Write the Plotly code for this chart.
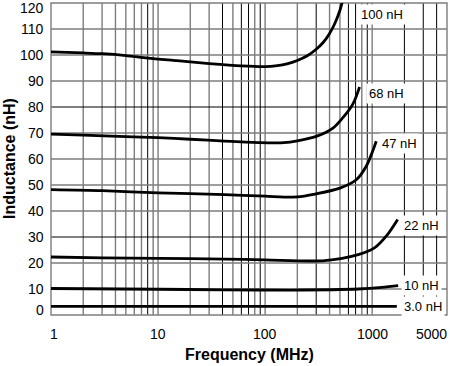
import math
import plotly.graph_objects as go

# ---------------- data ----------------
f_100 = [1, 2, 3, 5, 8, 15, 30, 60, 100, 130, 160, 200, 250, 300, 350, 400, 450, 500, 530]
l_100 = [101.2, 100.8, 100.5, 99.8, 98.8, 97.8, 96.7, 95.8, 95.5, 95.9, 96.6, 97.9, 99.8, 102.2, 104.9, 108.3, 112.3, 117.2, 121.0]

f_68 = [1, 2, 5, 10, 20, 42, 90, 150, 200, 300, 430, 530, 640, 690, 763]
l_68 = [69.6, 69.2, 68.6, 68.2, 67.6, 66.9, 66.3, 66.3, 67.0, 68.7, 71.9, 75.8, 80.2, 82.8, 87.7]

f_47 = [1, 3, 10, 42, 100, 200, 300, 500, 710, 880, 1000, 1092]
l_47 = [48.2, 47.8, 47.0, 46.3, 45.7, 45.4, 46.6, 48.8, 52.0, 57.2, 62.5, 66.8]

f_22 = [1, 3, 10, 42, 100, 360, 740, 1050, 1390, 1730]
l_22 = [22.3, 22.0, 21.8, 21.5, 21.2, 20.9, 23.2, 25.8, 30.9, 36.7]

f_10 = [1, 10, 42, 175, 740, 1230, 1500, 1750]
l_10 = [10.2, 9.9, 9.7, 9.6, 10.0, 10.6, 11.0, 11.3]

f_3 = [1, 100, 1700]
l_3 = [3.3, 3.3, 3.3]

series = [
    ("100 nH", f_100, l_100),
    ("68 nH", f_68, l_68),
    ("47 nH", f_47, l_47),
    ("22 nH", f_22, l_22),
    ("10 nH", f_10, l_10),
    ("3.0 nH", f_3, l_3),
]

# curve label anchor points (frequency, inductance)
label_names = ["100 nH", "68 nH", "47 nH", "22 nH", "10 nH", "3.0 nH"]
label_f = [731, 883, 1148, 1866, 1840, 1866]
label_l = [115.4, 85.3, 65.8, 34.6, 11.2, 3.2]

x_ticks = [1, 10, 100, 1000, 5000]
x_tick_text = ["1", "10", "100", "1000", "5000"]
y_ticks = list(range(0, 121, 10))
y_tick_text = [str(v) for v in y_ticks]

grid_x_gray = [2, 3, 4, 5, 6, 7, 9, 10, 20, 30, 50, 80, 100, 200, 400, 500, 800, 1000]
grid_x_black = [8, 40, 60, 70, 90, 300, 600, 700, 900, 2000, 3000, 4000]
grid_y_gray = [10, 20, 40, 50, 60, 70, 90, 100, 110]
grid_y_black = [30, 80]

# ---------------- figure ----------------
FONT = "Liberation Sans, Arial, Helvetica, sans-serif"
GRAY = "#7d7d7d"

fig = go.Figure()
for name, fx, ly in series:
    fig.add_trace(go.Scatter(
        x=fx, y=ly, mode="lines", name=name,
        line=dict(color="black", width=2.8, shape="spline", smoothing=0.8),
        hoverinfo="skip", showlegend=False, cliponaxis=True,
    ))

shapes = []
for v in grid_x_gray:
    shapes.append(dict(type="line", xref="x", yref="paper", x0=v, x1=v, y0=0, y1=1,
                       line=dict(color=GRAY, width=1.4), layer="below"))
for v in grid_x_black:
    shapes.append(dict(type="line", xref="x", yref="paper", x0=v, x1=v, y0=0, y1=1,
                       line=dict(color="black", width=1), layer="below"))
for v in grid_y_gray:
    shapes.append(dict(type="line", xref="paper", yref="y", x0=0, x1=1, y0=v, y1=v,
                       line=dict(color=GRAY, width=1.4), layer="below"))
for v in grid_y_black:
    shapes.append(dict(type="line", xref="paper", yref="y", x0=0, x1=1, y0=v, y1=v,
                       line=dict(color="black", width=1), layer="below"))
shapes.append(dict(type="rect", xref="paper", yref="paper", x0=0, x1=1, y0=0, y1=1,
                   line=dict(color=GRAY, width=1.4), layer="below"))

annotations = []
for name, fx, ly in zip(label_names, label_f, label_l):
    annotations.append(dict(
        x=math.log10(fx), y=ly, xref="x", yref="y", text=name, showarrow=False,
        xanchor="left", yanchor="middle", bgcolor="white", borderpad=2,
        font=dict(family=FONT, size=13, color="black"),
    ))

# x tick labels as annotations (5000 is right-aligned to the frame)
for v, t in zip(x_ticks, x_tick_text):
    anchor = "center"
    shift = 0
    if v == 1:
        shift = 3
    if v == x_ticks[-1]:
        anchor = "right"
        shift = 2
    annotations.append(dict(
        x=math.log10(v), y=0, xref="x", yref="paper", text=t, showarrow=False,
        xanchor=anchor, yanchor="top", yshift=-9, xshift=shift,
        font=dict(family=FONT, size=14, color="black"),
    ))

# y tick labels as annotations (0 and 120 nudged inside as in the reference)
for v, t in zip(y_ticks, y_tick_text):
    ys = 0
    if v == y_ticks[0]:
        ys = 5
    if v == y_ticks[-1]:
        ys = -5
    annotations.append(dict(
        x=0, y=v, xref="paper", yref="y", text=t, showarrow=False,
        xanchor="right", yanchor="middle", xshift=-5, yshift=ys,
        font=dict(family=FONT, size=14, color="black"),
    ))

annotations.append(dict(
    x=0.5, y=0, xref="paper", yref="paper", text="<b>Frequency (MHz)</b>",
    showarrow=False, xanchor="center", yanchor="middle", yshift=-39,
    font=dict(family=FONT, size=16, color="black"),
))
annotations.append(dict(
    x=0, y=0.5, xref="paper", yref="paper", text="<b>Inductance (nH)</b>",
    showarrow=False, xanchor="center", yanchor="middle", xshift=-42, textangle=-90,
    font=dict(family=FONT, size=16, color="black"),
))

fig.update_layout(
    width=450, height=366,
    margin=dict(l=51, r=3, t=3, b=51),
    paper_bgcolor="white", plot_bgcolor="white",
    shapes=shapes, annotations=annotations,
    xaxis=dict(type="log", range=[0, math.log10(5000)], showgrid=False,
               zeroline=False, showticklabels=False, ticks="", showline=False,
               fixedrange=True),
    yaxis=dict(range=[0, 120], showgrid=False, zeroline=False, showticklabels=False,
               ticks="", showline=False, fixedrange=True),
    font=dict(family=FONT, color="black"),
)

fig.write_html(
    "out.html",
    config={"displayModeBar": False, "staticPlot": True},
    post_script="document.body.style.margin='0px';document.body.style.padding='0px';",
)
